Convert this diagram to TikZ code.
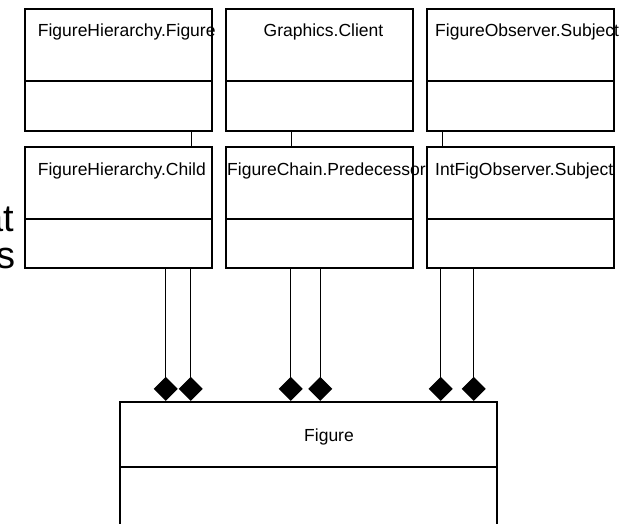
\documentclass[tikz,border=0pt]{standalone}
\usepackage{fontspec}
\setmainfont{Liberation Sans}
\usetikzlibrary{arrows.meta}
\tikzset{
  classbox/.style={draw,line width=1.8pt,minimum width=187pt,minimum height=121.4pt,inner sep=0pt},
  classname/.style={inner sep=0pt,font=\fontsize{17.5}{20}\selectfont},
  divider/.style={line width=1.8pt},
  link/.style={line width=1.1pt},
  compose/.style={line width=1.3pt,-{Diamond[length=24pt,width=24pt]}},
  bigtext/.style={inner sep=0pt,font=\fontsize{38}{38}\selectfont}
}

\begin{document}
\begin{tikzpicture}[x=1pt,y=-1pt]
  \clip[use as bounding box] (0,0) rectangle (620,523);
  % text cut off at the left border
  \node[bigtext,anchor=base east] (frag1) at (14,231.7) {at};
  \node[bigtext,anchor=base east] (frag2) at (16,268) {s};
  % upper row
  \node[classbox] (hfig)    at (118.5,70) {};
  \node[classbox] (gclient) at (319.8,70) {};
  \node[classbox] (fosubj)  at (520.5,70) {};
  % lower row
  \node[classbox] (hchild)  at (118.5,207.5) {};
  \node[classbox] (fcpred)  at (319.8,207.5) {};
  \node[classbox] (ifosubj) at (520.5,207.5) {};
  % composite
  \node[classbox,minimum width=377pt,minimum height=160pt] (fig) at (308.5,481.7) {};
  \foreach \n in {hfig,gclient,fosubj} \draw[divider] (\n.west |- 0,81) -- (\n.east |- 0,81);
  \foreach \n in {hchild,fcpred,ifosubj} \draw[divider] (\n.west |- 0,219.3) -- (\n.east |- 0,219.3);
  \draw[divider] (fig.west |- 0,466.7) -- (fig.east |- 0,466.7);
  % class names
  \node[classname,anchor=base west] (hfig-name)    at (37.7,36.7) {FigureHierarchy.Figure};
  \node[classname,anchor=base]      (gclient-name) at (323.5,36.7) {Graphics.Client};
  \node[classname,anchor=base west] (fosubj-name)  at (435,36.7) {FigureObserver.Subject};
  \node[classname,anchor=base west] (hchild-name)  at (37.7,175) {FigureHierarchy.Child};
  \node[classname,anchor=base west] (fcpred-name)  at (227,175) {FigureChain.Predecessor};
  \node[classname,anchor=base west] (ifosubj-name) at (435,175) {IntFigObserver.Subject};
  \node[classname,anchor=base]      (fig-name)     at (329,441.7) {Figure};
  % links between the rows
  \draw[link] (hfig.south -| 191.6,0) -- (hchild.north -| 191.6,0);
  \draw[link] (gclient.south -| 291.7,0) -- (fcpred.north -| 291.7,0);
  \draw[link] (fosubj.south -| 442.5,0) -- (ifosubj.north -| 442.5,0);
  % compositions
  \foreach \n/\x in {hchild/165.7,hchild/190.7,fcpred/290.7,fcpred/320.3,ifosubj/440.7,ifosubj/473.7}
    \draw[compose] (\n.south -| \x,0) -- (fig.north -| \x,0);
\end{tikzpicture}
\end{document}
